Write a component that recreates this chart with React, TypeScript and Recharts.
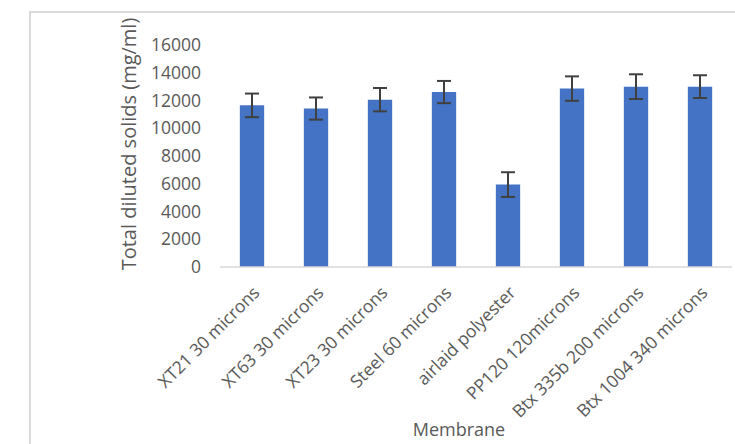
import { Bar, BarChart, ErrorBar, XAxis, YAxis } from "recharts";

const membranes = [
  "XT21 30 microns",
  "XT63 30 microns",
  "XT23 30 microns",
  "Steel 60 microns",
  "airlaid polyester",
  "PP120 120microns",
  "Btx 335b 200 microns",
  "Btx 1004 340 microns",
];
const solids = [11650, 11420, 12060, 12610, 5940, 12860, 13000, 13000];
const solidsErr = [850, 800, 840, 800, 890, 880, 890, 820];
const yTicks = [0, 2000, 4000, 6000, 8000, 10000, 12000, 14000, 16000];

const data = membranes.map((name, i) => ({ name, solids: solids[i], err: solidsErr[i] }));

const FONT = "'Open Sans', sans-serif";
const GREY = "#595959";

function CategoryTick({ x, y, payload }: { x?: number; y?: number; payload?: { value: string } }) {
  return (
    <text
      x={0}
      y={0}
      transform={`translate(${(x ?? 0) - 2},${(y ?? 0) + 8}) rotate(-45)`}
      textAnchor="end"
      dominantBaseline="hanging"
      fill={GREY}
      fontSize={17.5}
      fontFamily={FONT}
    >
      {payload?.value}
    </text>
  );
}

function YTitle() {
  return (
    <text
      x={0}
      y={0}
      transform="translate(128,144) rotate(-90)"
      textAnchor="middle"
      dominantBaseline="central"
      fill={GREY}
      fontSize={20}
      fontFamily={FONT}
    >
      Total diluted solids (mg/ml)
    </text>
  );
}

export default function App() {
  return (
    <div style={{ position: "fixed", left: 0, top: 0, width: 735, height: 444, background: "#fff" }}>
      <div
        style={{
          position: "absolute",
          left: 29,
          top: 11,
          right: 0,
          bottom: 0,
          borderLeft: "2px solid #d9d9d9",
          borderTop: "2px solid #d9d9d9",
        }}
      />
      <div style={{ position: "absolute", left: 0, top: 0 }}>
        <BarChart
          width={735}
          height={444}
          data={data}
          barCategoryGap="69%"
          margin={{ top: 45, right: 3, left: 0, bottom: 0 }}
        >
          <XAxis
            dataKey="name"
            interval={0}
            height={177}
            tickLine={false}
            stroke="#d9d9d9"
            strokeWidth={1.5}
            tick={<CategoryTick />}
            label={{
              value: "Membrane",
              position: "insideBottom",
              offset: 8,
              dx: -17,
              fill: GREY,
              fontSize: 18,
              fontFamily: FONT,
            }}
          />
          <YAxis
            width={220}
            domain={[0, 16000]}
            ticks={yTicks}
            interval={0}
            axisLine={false}
            tickLine={false}
            tickMargin={13}
            tick={{ fill: GREY, fontSize: 17.5, fontFamily: FONT }}
            label={<YTitle />}
          />
          <Bar dataKey="solids" fill="#4472C4" isAnimationActive={false}>
            <ErrorBar dataKey="err" width={7} stroke="#404040" strokeWidth={2} />
          </Bar>
        </BarChart>
      </div>
    </div>
  );
}
